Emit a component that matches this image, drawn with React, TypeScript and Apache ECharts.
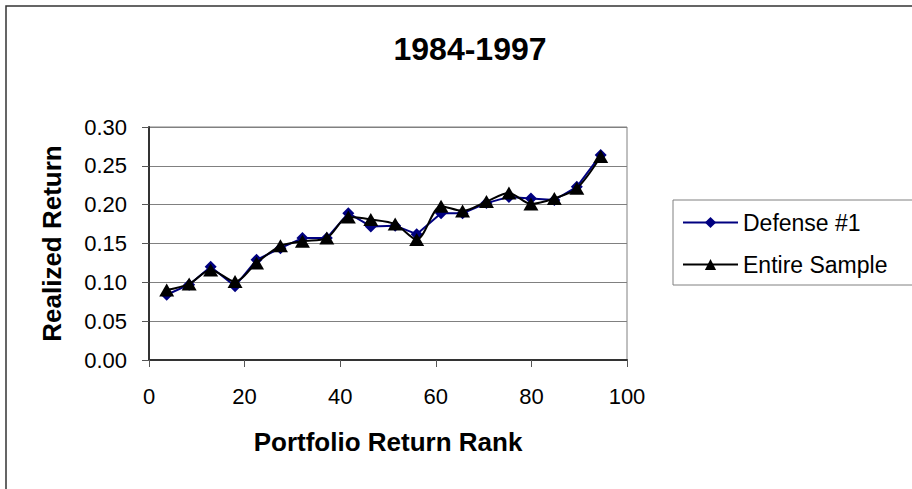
import React, { useEffect, useRef } from "react";
import * as echarts from "echarts";

const rankX = [3.7, 8.4, 12.9, 18.0, 22.5, 27.5, 32.1, 37.2, 41.7, 46.4, 51.5, 56.0, 61.1, 65.6, 70.6, 75.3, 79.9, 84.8, 89.5, 94.5];
const defense1 = [0.084, 0.097, 0.120, 0.095, 0.129, 0.144, 0.157, 0.157, 0.189, 0.172, 0.173, 0.162, 0.189, 0.189, 0.202, 0.210, 0.208, 0.206, 0.223, 0.264];
const entireSample = [0.090, 0.098, 0.116, 0.101, 0.125, 0.147, 0.153, 0.157, 0.184, 0.181, 0.175, 0.155, 0.198, 0.192, 0.204, 0.215, 0.201, 0.208, 0.221, 0.262];
const seriesNames = ["Defense #1", "Entire Sample"];
const titleText = "1984-1997";
const xTitle = "Portfolio Return Rank";
const yTitle = "Realized Return";

const FONT = "'Liberation Sans', Arial, sans-serif";

export default function App() {
  const ref = useRef<HTMLDivElement>(null);
  useEffect(() => {
    if (!ref.current) return;
    const chart = echarts.init(ref.current, null, { renderer: "svg" });
    chart.setOption({
      animation: false,
      backgroundColor: "#ffffff",
      textStyle: { fontFamily: FONT },
      title: {
        text: titleText,
        left: 465,
        top: 28,
        textAlign: "center",
        textStyle: { fontFamily: FONT, fontSize: 32, fontWeight: "bold", color: "#000" },
      },
      graphic: [
        {
          type: "rect",
          shape: { x: 6, y: 6, width: 1000, height: 600 },
          style: { fill: "none", stroke: "#333333", lineWidth: 1.5 },
          silent: true,
        },
      ],
      legend: {
        orient: "vertical",
        left: 673,
        top: 200,
        padding: [11, 60, 9, 9],
        itemGap: 19,
        itemWidth: 55,
        itemHeight: 14,
        borderColor: "#808080",
        borderWidth: 1,
        textStyle: { fontFamily: FONT, fontSize: 23, color: "#000" },
        data: seriesNames,
      },
      grid: {
        left: 149,
        right: 285,
        top: 127,
        bottom: 129,
        show: true,
        borderColor: "#808080",
        borderWidth: 1,
      },
      xAxis: {
        type: "value",
        min: 0,
        max: 100,
        interval: 20,
        name: xTitle,
        nameLocation: "middle",
        nameGap: 69,
        nameTextStyle: { fontFamily: FONT, fontSize: 26, fontWeight: "bold", color: "#000" },
        axisLine: { show: true, onZero: false, lineStyle: { color: "#333", width: 2 } },
        axisTick: { show: true, inside: false, length: 7, lineStyle: { color: "#555", width: 1 } },
        axisLabel: { fontFamily: FONT, fontSize: 22, color: "#000", margin: 25 },
        splitLine: { show: false },
      },
      yAxis: {
        type: "value",
        min: 0,
        max: 0.3,
        interval: 0.05,
        name: yTitle,
        nameLocation: "middle",
        nameGap: 84,
        nameTextStyle: { fontFamily: FONT, fontSize: 26, fontWeight: "bold", color: "#000" },
        axisLine: { show: true, lineStyle: { color: "#333", width: 2 } },
        axisTick: { show: true, inside: false, length: 7, lineStyle: { color: "#555", width: 1 } },
        axisLabel: {
          fontFamily: FONT,
          fontSize: 22,
          color: "#000",
          margin: 22,
          formatter: (v: number) => v.toFixed(2),
        },
        splitLine: { show: true, lineStyle: { color: "#808080", width: 1 } },
      },
      series: [
        {
          name: seriesNames[0],
          type: "line",
          data: rankX.map((x, i) => [x, defense1[i]]),
          symbol: "diamond",
          symbolSize: 12,
          itemStyle: { color: "#000080" },
          lineStyle: { color: "#000080", width: 2 },
          z: 2,
        },
        {
          name: seriesNames[1],
          type: "line",
          data: rankX.map((x, i) => [x, entireSample[i]]),
          symbol: "triangle",
          symbolSize: [15, 13],
          smooth: 0.3,
          itemStyle: { color: "#000000" },
          lineStyle: { color: "#000000", width: 2 },
          z: 3,
        },
      ],
    });
    return () => chart.dispose();
  }, []);
  return <div ref={ref} style={{ width: 912, height: 489, position: "absolute", left: 0, top: 0 }} />;
}
